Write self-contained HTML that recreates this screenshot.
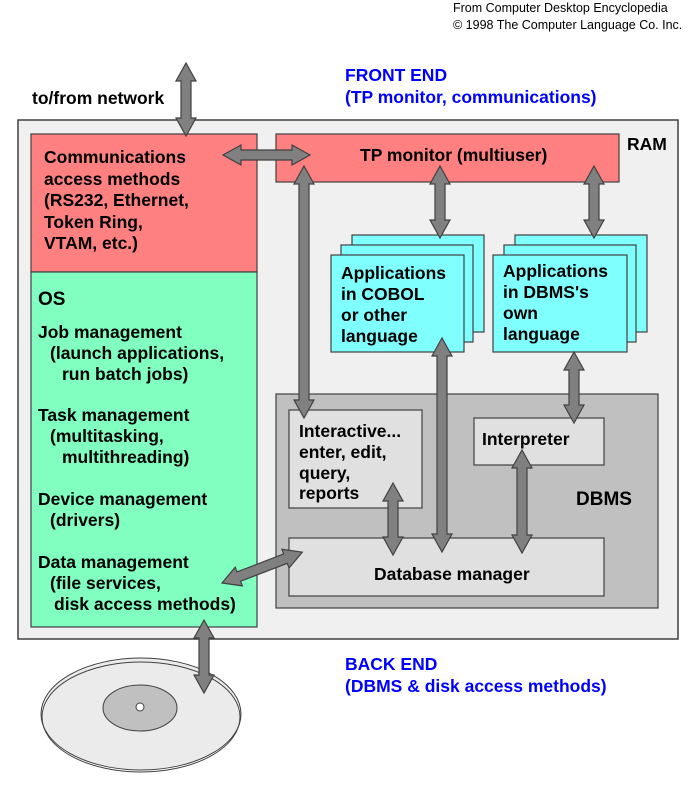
<!DOCTYPE html>
<html><head><meta charset="utf-8"><style>
body{margin:0;background:#fff;}
svg text{font-family:"Liberation Sans",Arial,sans-serif;font-weight:bold;font-size:17.5px;fill:#000;}
.b{fill:#0000ff;}
.s{font-weight:normal;font-size:12.5px;}
.a{fill:#808080;stroke:#404040;stroke-width:1.2;}
</style></head><body>
<svg width="692" height="783" viewBox="0 0 692 783" xmlns="http://www.w3.org/2000/svg">
<text class="s" x="453" y="12">From Computer Desktop Encyclopedia</text>
<text class="s" x="453" y="29">© 1998 The Computer Language Co. Inc.</text>
<text x="32" y="104">to/from network</text>
<text class="b" x="345" y="81">FRONT END</text>
<text class="b" x="345" y="103">(TP monitor, communications)</text>

<rect x="18" y="120" width="660" height="519" fill="#f0f0f0" stroke="#404040" stroke-width="1.5"/>
<text x="627" y="150">RAM</text>
<rect x="31" y="134" width="226" height="138" fill="#ff8080" stroke="#404040" stroke-width="1.2"/>
<rect x="31" y="272" width="226" height="355" fill="#80ffc0" stroke="#404040" stroke-width="1.2"/>
<text x="44" y="163">Communications</text>
<text x="44" y="185">access methods</text>
<text x="44" y="206">(RS232, Ethernet,</text>
<text x="44" y="228">Token Ring,</text>
<text x="44" y="249">VTAM, etc.)</text>
<text x="38" y="305" style="font-size:19px">OS</text>
<text x="38" y="338">Job management</text>
<text x="50" y="359">(launch applications,</text>
<text x="62" y="380">run batch jobs)</text>
<text x="38" y="421">Task management</text>
<text x="50" y="442">(multitasking,</text>
<text x="62" y="463">multithreading)</text>
<text x="38" y="505">Device management</text>
<text x="50" y="526">(drivers)</text>
<text x="38" y="568">Data management</text>
<text x="50" y="589">(file services,</text>
<text x="54" y="610">disk access methods)</text>

<rect x="276" y="134" width="343" height="48" fill="#ff8080" stroke="#404040" stroke-width="1.2"/>
<text x="360" y="161">TP monitor (multiuser)</text>

<g fill="#80ffff" stroke="#404040" stroke-width="1.2">
<rect x="352" y="235" width="132" height="97"/>
<rect x="341" y="245" width="132" height="97"/>
<rect x="331" y="255" width="133" height="97"/>
<rect x="515" y="235" width="132" height="97"/>
<rect x="504" y="245" width="132" height="97"/>
<rect x="493" y="255" width="134" height="97"/>
</g>
<text x="341" y="279">Applications</text>
<text x="341" y="300">in COBOL</text>
<text x="341" y="321">or other</text>
<text x="341" y="342">language</text>
<text x="503" y="277">Applications</text>
<text x="503" y="298">in DBMS's</text>
<text x="503" y="319">own</text>
<text x="503" y="340">language</text>

<rect x="276" y="394" width="382" height="214" fill="#c0c0c0" stroke="#404040" stroke-width="1.2"/>
<text x="576" y="505" style="font-size:19px">DBMS</text>
<rect x="289" y="410" width="133" height="98" fill="#e0e0e0" stroke="#404040" stroke-width="1.2"/>
<text x="299" y="437">Interactive...</text>
<text x="299" y="458">enter, edit,</text>
<text x="299" y="479">query,</text>
<text x="299" y="499">reports</text>
<rect x="474" y="418" width="130" height="47" fill="#e0e0e0" stroke="#404040" stroke-width="1.2"/>
<text x="482" y="445">Interpreter</text>
<rect x="289" y="538" width="315" height="58" fill="#e0e0e0" stroke="#404040" stroke-width="1.2"/>
<text x="374" y="580">Database manager</text>

<text class="b" x="345" y="670">BACK END</text>
<text class="b" x="345" y="692">(DBMS &amp; disk access methods)</text>

<ellipse cx="141" cy="714" rx="100" ry="56" fill="#ebebeb" stroke="#404040" stroke-width="1"/>
<ellipse cx="141" cy="717" rx="99" ry="55" fill="none" stroke="#404040" stroke-width="1"/>
<ellipse cx="140" cy="708" rx="37" ry="23" fill="#c0c0c0" stroke="#404040" stroke-width="1"/>
<circle cx="140" cy="707" r="4" fill="#fff" stroke="#404040"/>

<g transform="translate(186,63) rotate(90)"><polygon class="a" points="0,0 18,-10 18,-5 55,-5 55,-10 73,0 55,10 55,5 18,5 18,10"/></g>
<g transform="translate(223,155)"><polygon class="a" points="0,0 18,-10 18,-5 69,-5 69,-10 87,0 69,10 69,5 18,5 18,10"/></g>
<g transform="translate(440,166) rotate(90)"><polygon class="a" points="0,0 18,-10 18,-5 54,-5 54,-10 72,0 54,10 54,5 18,5 18,10"/></g>
<g transform="translate(594,166) rotate(90)"><polygon class="a" points="0,0 18,-10 18,-5 54,-5 54,-10 72,0 54,10 54,5 18,5 18,10"/></g>
<g transform="translate(304,166) rotate(90)"><polygon class="a" points="0,0 18,-10 18,-5 234,-5 234,-10 252,0 234,10 234,5 18,5 18,10"/></g>
<g transform="translate(442,338) rotate(90)"><polygon class="a" points="0,0 18,-10 18,-5 196,-5 196,-10 214,0 196,10 196,5 18,5 18,10"/></g>
<g transform="translate(574,352) rotate(90)"><polygon class="a" points="0,0 18,-10 18,-5 53,-5 53,-10 71,0 53,10 53,5 18,5 18,10"/></g>
<g transform="translate(393,483) rotate(90)"><polygon class="a" points="0,0 18,-10 18,-5 54,-5 54,-10 72,0 54,10 54,5 18,5 18,10"/></g>
<g transform="translate(522,450) rotate(90)"><polygon class="a" points="0,0 18,-10 18,-5 85,-5 85,-10 103,0 85,10 85,5 18,5 18,10"/></g>
<g transform="translate(222,583) rotate(-21)"><polygon class="a" points="0,0 18,-10 18,-5 68,-5 68,-10 86,0 68,10 68,5 18,5 18,10"/></g>
<g transform="translate(204,620) rotate(90)"><polygon class="a" points="0,0 18,-10 18,-5 55,-5 55,-10 73,0 55,10 55,5 18,5 18,10"/></g>
</svg>
</body></html>
